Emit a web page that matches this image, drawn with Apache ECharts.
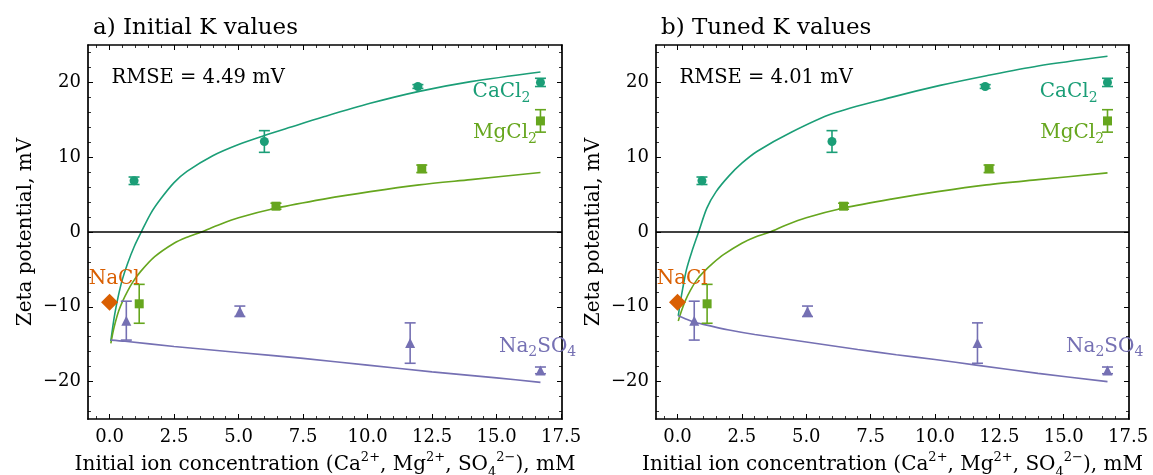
<!DOCTYPE html>
<html>
<head>
<meta charset="utf-8">
<script src="https://cdn.jsdelivr.net/npm/echarts@6/dist/echarts.min.js"></script>
<style>html,body{margin:0;padding:0;background:#fff}#c{width:1153px;height:475px}</style>
</head>
<body>
<div id="c"></div>
<script>
// ---- tick labels ----
const xTicks = [0, 2.5, 5, 7.5, 10, 12.5, 15, 17.5];
const xMinor = [-0.5, 0, 0.5, 1, 1.5, 2, 2.5, 3, 3.5, 4, 4.5, 5, 5.5, 6, 6.5, 7, 7.5, 8, 8.5, 9, 9.5, 10, 10.5, 11, 11.5, 12, 12.5, 13, 13.5, 14, 14.5, 15, 15.5, 16, 16.5, 17, 17.5];
const yTicks = [-20, -10, 0, 10, 20];
const yMinor = [-24, -22, -20, -18, -16, -14, -12, -10, -8, -6, -4, -2, 0, 2, 4, 6, 8, 10, 12, 14, 16, 18, 20, 22, 24];
const panelTitles = ['a) Initial K values', 'b) Tuned K values'];
const rmseTexts = ['RMSE = 4.49 mV', 'RMSE = 4.01 mV'];

// ---- measured points ----
const caX = [0.95, 6.0, 11.95, 16.7];
const caY = [6.85, 12.1, 19.45, 20.0];
const caErr = [0.5, 1.45, 0.25, 0.55];
const mgX = [1.15, 6.45, 12.1, 16.7];
const mgY = [-9.6, 3.45, 8.45, 14.85];
const mgErr = [2.6, 0.4, 0.5, 1.5];
const naSO4X = [0.65, 5.05, 11.65, 16.7];
const naSO4Y = [-11.85, -10.6, -14.85, -18.5];
const naSO4Err = [2.6, 0.7, 2.7, 0.45];
const naclX = [0];
const naclY = [-9.4];

// ---- model curves, panel a (initial K) ----
const caFitA = [[0.05,-14.6],[0.12,-12.8],[0.2,-11.0],[0.33,-8.7],[0.5,-6.3],[0.7,-4.2],[0.95,-2.0],[1.23,0],[1.6,2.5],[2.0,4.5],[2.5,6.6],[3.0,8.1],[4.0,10.2],[5.0,11.7],[6.0,12.9],[7.0,14.0],[8.3,15.4],[10.1,17.2],[12.0,18.8],[14.0,20.1],[16.7,21.4]];
const mgFitA = [[0.05,-14.9],[0.12,-13.6],[0.2,-12.4],[0.35,-10.6],[0.5,-9.3],[0.7,-7.9],[0.9,-6.7],[1.2,-5.3],[1.75,-3.3],[2.5,-1.5],[3.0,-0.7],[3.56,0],[4.2,0.9],[5.0,1.9],[6.47,3.2],[8.3,4.4],[10.1,5.4],[12.0,6.3],[14.0,7.0],[16.7,7.95]];
const so4FitA = [[0.05,-14.45],[0.6,-14.6],[2.5,-15.3],[5.0,-16.1],[7.5,-16.9],[10.0,-17.8],[12.5,-18.7],[15.0,-19.5],[16.7,-20.1]];
// ---- model curves, panel b (tuned K) ----
const caFitB = [[0.03,-11.2],[0.1,-9.6],[0.2,-7.6],[0.35,-5.0],[0.55,-2.7],[0.82,0],[1.14,3.2],[1.5,5.4],[2.0,7.5],[2.5,9.2],[3.1,10.8],[4.4,13.3],[6.0,15.8],[8.3,18.0],[10.2,19.6],[12.0,20.9],[14.0,22.2],[16.7,23.5]];
const mgFitB = [[0.03,-11.9],[0.15,-10.6],[0.3,-9.2],[0.5,-7.8],[0.75,-6.4],[1.0,-5.4],[1.4,-4.1],[1.8,-3.0],[2.5,-1.5],[3.0,-0.7],[3.6,0],[4.2,0.9],[5.0,1.9],[6.45,3.2],[8.3,4.4],[10.1,5.4],[12.0,6.3],[14.0,7.0],[16.7,7.9]];
const so4FitB = [[0.03,-11.2],[0.3,-11.6],[0.6,-12.0],[1.0,-12.35],[2.0,-13.1],[3.0,-13.7],[5.0,-14.7],[7.0,-15.7],[8.5,-16.4],[10.0,-17.05],[11.6,-17.8],[14.0,-18.9],[16.7,-20.0]];

const FONT = 'DejaVu Serif';
const C_CA = '#1b9e77', C_MG = '#66a61e', C_SO4 = '#7570b3', C_NACL = '#d95f02';
const XMIN = -0.835, XMAX = 17.535, YMIN = -25, YMAX = 25;

const grids = [
  {left: 88, top: 45, width: 474, height: 374, outerBoundsMode: 'none', containLabel: false},
  {left: 656, top: 45, width: 473, height: 374, outerBoundsMode: 'none', containLabel: false}
];

function fmtNum(v, d) {
  const s = Math.abs(v).toFixed(d);
  return v < 0 ? '\u2212' + s : s;
}

const frameLine = {show: true, onZero: false, lineStyle: {color: '#000', width: 1.7}};
const noLine = {show: false, onZero: false};
const majorTick = vals => ({show: true, inside: true, length: 5, lineStyle: {color: '#000', width: 1}, customValues: vals});
const minorTick = vals => ({show: true, inside: true, length: 3, lineStyle: {color: '#000', width: 0.8}, customValues: vals});

const xAxes = [], yAxes = [];
grids.forEach((g, gi) => {
  const base = {type: 'value', gridIndex: gi, min: XMIN, max: XMAX, splitLine: {show: false}};
  xAxes.push(Object.assign({}, base, {
    position: 'bottom', axisLine: frameLine, axisTick: majorTick(xTicks),
    axisLabel: {show: true, customValues: xTicks, formatter: v => fmtNum(v, 1), fontFamily: FONT, fontSize: 18, color: '#000', margin: 9},
    name: 'Initial ion concentration (Ca{sup|2+}, Mg{sup|2+}, SO{sub|4}{sup|2\u2212}), mM',
    nameLocation: 'middle', nameGap: 30,
    nameTextStyle: {fontFamily: FONT, fontSize: 20, color: '#000', lineHeight: 28,
      rich: {sup: {fontFamily: FONT, fontSize: 13, verticalAlign: 'top', lineHeight: 28, color: '#000'},
             sub: {fontFamily: FONT, fontSize: 13, verticalAlign: 'bottom', lineHeight: 28, color: '#000'}}}
  }));
  xAxes.push(Object.assign({}, base, {position: 'bottom', axisLine: noLine, axisTick: minorTick(xMinor), axisLabel: {show: false}}));
  xAxes.push(Object.assign({}, base, {position: 'top', axisLine: frameLine, axisTick: majorTick(xTicks), axisLabel: {show: false}}));
  xAxes.push(Object.assign({}, base, {position: 'top', axisLine: noLine, axisTick: minorTick(xMinor), axisLabel: {show: false}}));
  const ybase = {type: 'value', gridIndex: gi, min: YMIN, max: YMAX, splitLine: {show: false}};
  yAxes.push(Object.assign({}, ybase, {
    position: 'left', axisLine: frameLine, axisTick: majorTick(yTicks),
    axisLabel: {show: true, customValues: yTicks, formatter: v => fmtNum(v, 0), fontFamily: FONT, fontSize: 18, color: '#000', margin: 7},
    name: 'Zeta potential, mV', nameLocation: 'middle', nameGap: 52,
    nameTextStyle: {fontFamily: FONT, fontSize: 20, color: '#000'}
  }));
  yAxes.push(Object.assign({}, ybase, {position: 'left', axisLine: noLine, axisTick: minorTick(yMinor), axisLabel: {show: false}}));
  yAxes.push(Object.assign({}, ybase, {position: 'right', axisLine: frameLine, axisTick: majorTick(yTicks), axisLabel: {show: false}}));
  yAxes.push(Object.assign({}, ybase, {position: 'right', axisLine: noLine, axisTick: minorTick(yMinor), axisLabel: {show: false}}));
});

function errData(xs, ys, es) { return xs.map((x, i) => [x, ys[i], es[i]]); }

function errSeries(gi, xs, ys, es, color) {
  return {
    type: 'custom', xAxisIndex: gi * 4, yAxisIndex: gi * 4, silent: true, z: 3,
    data: errData(xs, ys, es),
    renderItem: function (params, api) {
      const x = api.value(0), y = api.value(1), e = api.value(2);
      const top = api.coord([x, y + e]);
      const bot = api.coord([x, y - e]);
      const cw = 5.5;
      const st = {stroke: color, lineWidth: 1.6, fill: null};
      return {type: 'group', children: [
        {type: 'line', shape: {x1: top[0], y1: top[1], x2: bot[0], y2: bot[1]}, style: st},
        {type: 'line', shape: {x1: top[0] - cw, y1: top[1], x2: top[0] + cw, y2: top[1]}, style: st},
        {type: 'line', shape: {x1: bot[0] - cw, y1: bot[1], x2: bot[0] + cw, y2: bot[1]}, style: st}
      ]};
    }
  };
}

function pointSeries(gi, xs, ys, color, symbol, size) {
  return {
    type: 'scatter', xAxisIndex: gi * 4, yAxisIndex: gi * 4, silent: true, z: 4,
    symbol: symbol, symbolSize: size, itemStyle: {color: color, opacity: 1},
    data: xs.map((x, i) => [x, ys[i]])
  };
}

function fitSeries(gi, pts, color) {
  return {
    type: 'line', xAxisIndex: gi * 4, yAxisIndex: gi * 4, silent: true, z: 2,
    showSymbol: false, symbol: 'none', smooth: 0.3,
    lineStyle: {color: color, width: 1.6}, data: pts
  };
}

function labelSeries(gi) {
  const mk = (x, y, txt, color) => ({
    value: [x, y],
    label: {show: true, position: 'right', distance: 0, formatter: txt, color: color, opacity: 1,
      fontFamily: FONT, fontSize: 20, lineHeight: 30,
      rich: {sub: {fontFamily: FONT, fontSize: 14, verticalAlign: 'bottom', lineHeight: 30, color: color, padding: [0, 0, 2, 0]}}}
  });
  return {
    type: 'scatter', xAxisIndex: gi * 4, yAxisIndex: gi * 4, silent: true, z: 6,
    symbolSize: 1, itemStyle: {color: 'rgba(0,0,0,0)'},
    data: [
      mk(14.05, 18.7, 'CaCl{sub|2}', C_CA),
      mk(14.07, 13.25, 'MgCl{sub|2}', C_MG),
      mk(15.07, -15.3, 'Na{sub|2}SO{sub|4}', C_SO4),
      mk(-0.83, -6.3, 'NaCl', C_NACL),
      {value: [0.06, 20.6], label: {show: true, position: 'right', distance: 0, formatter: rmseTexts[gi], color: '#000', opacity: 1, fontFamily: FONT, fontSize: 19.5}}
    ]
  };
}

const fits = [[caFitA, mgFitA, so4FitA], [caFitB, mgFitB, so4FitB]];
const series = [];
[0, 1].forEach(gi => {
  const f = fits[gi];
  const first = fitSeries(gi, f[0], C_CA);
  first.markLine = {silent: true, symbol: 'none', label: {show: false},
    lineStyle: {color: '#000', width: 1.7, type: 'solid'}, data: [{yAxis: 0}], animation: false};
  series.push(first);
  series.push(fitSeries(gi, f[1], C_MG));
  series.push(fitSeries(gi, f[2], C_SO4));
  series.push(errSeries(gi, caX, caY, caErr, C_CA));
  series.push(errSeries(gi, mgX, mgY, mgErr, C_MG));
  series.push(errSeries(gi, naSO4X, naSO4Y, naSO4Err, C_SO4));
  series.push(pointSeries(gi, caX, caY, C_CA, 'circle', 9));
  series.push(pointSeries(gi, mgX, mgY, C_MG, 'rect', 9));
  series.push(pointSeries(gi, naSO4X, naSO4Y, C_SO4, 'triangle', 10));
  series.push(pointSeries(gi, naclX, naclY, C_NACL, 'diamond', [17, 17]));
  series.push(labelSeries(gi));
});

const chart = echarts.init(document.getElementById('c'), null, {renderer: 'canvas'});
chart.setOption({
  animation: false,
  backgroundColor: '#fff',
  title: panelTitles.map((t, i) => ({
    text: t, left: grids[i].left, top: 12,
    textStyle: {fontFamily: FONT, fontSize: 23, fontWeight: 'normal', color: '#000'}
  })),
  grid: grids,
  xAxis: xAxes,
  yAxis: yAxes,
  series: series
});
</script>
</body>
</html>
